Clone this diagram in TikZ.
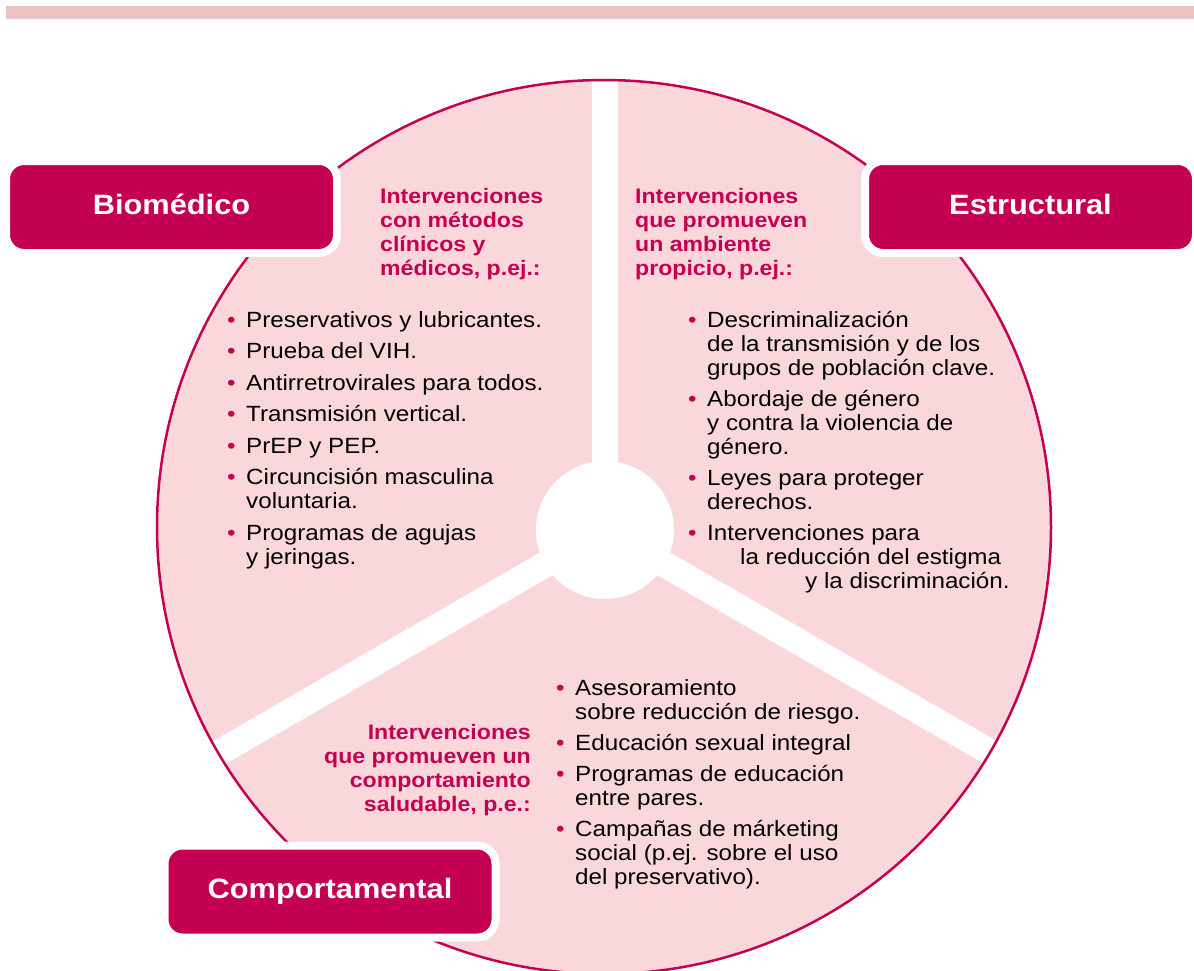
\documentclass[tikz,border=0pt]{standalone}
\usepackage{fontspec}
\setmainfont{Liberation Sans}[FakeStretch=1.1]
\definecolor{mag}{RGB}{196,0,82}
\definecolor{pinkfill}{RGB}{250,215,218}
\definecolor{band}{RGB}{237,192,196}
\newcommand\bul{\makebox[19pt][l]{\textcolor{mag}{\textbullet}}}
\newcommand\cont{\hspace*{19pt}}
\newcommand\bodyfont{\fontsize{22}{24}\selectfont}
\newcommand\headfont{\fontsize{21}{24.2}\selectfont\bfseries}
\begin{document}
\begin{tikzpicture}[x=1pt,y=-1pt,
  catbox/.style={fill=mag, draw=white, line width=8pt, rounded corners=18pt,
    minimum width=331pt, minimum height=92pt, inner sep=0pt, text=white,
    text height=20pt, text depth=6pt, font=\fontsize{28}{32}\selectfont\bfseries},
  listtext/.style={anchor=base west, inner sep=0pt, font=\bodyfont},
  headtext/.style={inner sep=0pt, text=mag, font=\headfont},
  gap/.style={white, line width=26pt}]
\useasboundingbox (0,0) rectangle (1194,971);
\clip (0,0) rectangle (1194,971);
\fill[band] (6,6) rectangle (1194,19);
\coordinate (O) at (604,527);
\coordinate (I) at (605,530);
\fill[pinkfill] (O) circle[radius=447];
\begin{scope}
  \clip (O) circle[radius=447];
  \draw[gap] (I) -- (605,0);
  \draw[gap] (I) -- ++(-520,300);
  \draw[gap] (I) -- ++(520,300);
\end{scope}
\fill[white] (I) circle[radius=69];
\draw[mag, line width=2.5pt] (O) circle[radius=447];
% category boxes
\node[catbox] (bbox) at (171.5,207) {Biomédico};
\node[catbox] (ebox) at (1030.5,207) {Estructural};
\node[catbox] (cbox) at (330,891.5) {Comportamental};
% headings
\node[headtext, anchor=base west] (bh) at (380,203.3) {\begin{tabular}[t]{@{}l@{}}Intervenciones\\con métodos\\clínicos y\\médicos, p.ej.:\end{tabular}};
\node[headtext, anchor=base west] (eh) at (635,203.3) {\begin{tabular}[t]{@{}l@{}}Intervenciones\\que promueven\\un ambiente\\propicio, p.ej.:\end{tabular}};
\node[headtext, anchor=base east] (ch) at (531,739) {\begin{tabular}[t]{@{}r@{}}Intervenciones\\que promueven un\\comportamiento\\saludable, p.e.:\end{tabular}};
% lists
\node[listtext] (bl) at (227,327.3) {\begin{tabular}[t]{@{}l@{}}
\bul Preservativos y lubricantes.\\[7.5pt]
\bul Prueba del VIH.\\[7.5pt]
\bul Antirretrovirales para todos.\\[7.5pt]
\bul Transmisión vertical.\\[7.5pt]
\bul PrEP y PEP.\\[7.5pt]
\bul Circuncisión masculina\\
\cont voluntaria.\\[7.5pt]
\bul Programas de agujas\\
\cont y jeringas.
\end{tabular}};
\node[listtext] (el) at (688,327.3) {\begin{tabular}[t]{@{}l@{}}
\bul Descriminalización\\
\cont de la transmisión y de los\\
\cont grupos de población clave.\\[7pt]
\bul Abordaje de género\\
\cont y contra la violencia de\\
\cont género.\\[7pt]
\bul Leyes para proteger\\
\cont derechos.\\[7pt]
\bul Intervenciones para\\
\cont\hspace*{33pt}la reducción del estigma\\
\cont\hspace*{98pt}y la discriminación.
\end{tabular}};
\node[listtext] (cl) at (556,695) {\begin{tabular}[t]{@{}l@{}}
\bul Asesoramiento\\
\cont sobre reducción de riesgo.\\[7pt]
\bul Educación sexual integral\\[7pt]
\bul Programas de educación\\
\cont entre pares.\\[7pt]
\bul Campañas de márketing\\
\cont social (p.ej. sobre el uso\\
\cont del preservativo).
\end{tabular}};
\end{tikzpicture}
\end{document}
